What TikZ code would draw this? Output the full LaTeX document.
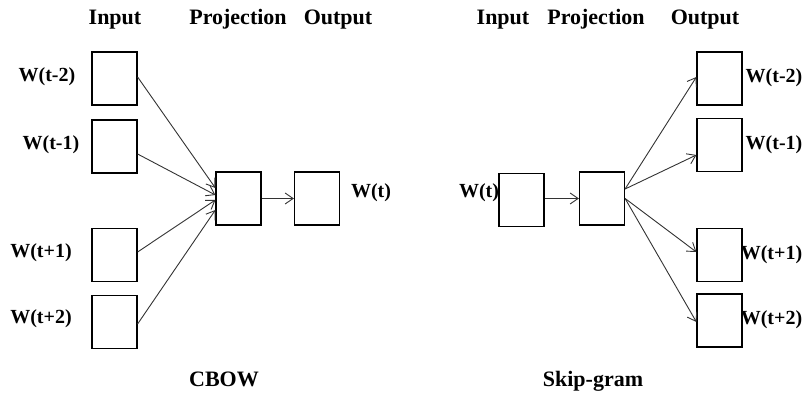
\documentclass[tikz,border=0pt]{standalone}
\usepackage{fontspec}
\setmainfont{Liberation Serif}
\usetikzlibrary{arrows.meta}
\begin{document}
\begin{tikzpicture}[x=1pt, y=1pt,
  boite/.style={draw, line width=1.2pt, minimum width=45pt, minimum height=53pt, inner sep=0pt},
  fleche/.style={-{Straight Barb[length=8pt,width=11pt]}, line width=0.9pt, draw=black!80},
  texte/.style={font=\fontsize{20}{24}\selectfont\bfseries, inner sep=0pt},
  titre/.style={font=\fontsize{22}{26}\selectfont\bfseries, inner sep=0pt, anchor=base}]
\useasboundingbox (0,0) rectangle (803,396);
% CBOW
\node[titre] (cbowin) at (115,371) {Input};
\node[titre] (cbowproj) at (238,371) {Projection};
\node[titre] (cbowout) at (338,371) {Output};
\node[boite] (in1) at (114.5,317.5) {};
\node[boite] (in2) at (114.5,249.5) {};
\node[boite] (in3) at (114.5,141) {};
\node[boite] (in4) at (114.5,74) {};
\node[boite] (proj) at (238.5,197.5) {};
\node[boite] (out) at (317,197.5) {};
\node[texte] (lin1) at (47,319) {W(t-2)};
\node[texte] (lin2) at (51,251) {W(t-1)};
\node[texte] (lin3) at (41,143) {W(t+1)};
\node[texte] (lin4) at (41,77) {W(t+2)};
\node[texte] (lout) at (371,203) {W(t)};
\draw[fleche] ([yshift=1.5pt]in1.east) -- ([yshift=10.5pt]proj.west);
\draw[fleche] ([yshift=-7.5pt]in2.east) -- ([yshift=3.5pt]proj.west);
\draw[fleche] ([yshift=3pt]in3.east) -- ([yshift=-1.5pt]proj.west);
\draw[fleche] ([yshift=-2pt]in4.east) -- ([yshift=-11.5pt]proj.west);
\draw[fleche] (proj) -- (out);
\node[titre] (cbow) at (224,9) {CBOW};
% Skip-gram
\node[titre] (skin) at (503,371) {Input};
\node[titre] (skproj) at (596,371) {Projection};
\node[titre] (skout) at (705,371) {Output};
\node[boite] (sin) at (521.5,196) {};
\node[boite] (sproj) at (602,197.5) {};
\node[boite] (so1) at (719.5,317.5) {};
\node[boite] (so2) at (719.5,251) {};
\node[boite] (so3) at (719.5,141) {};
\node[boite] (so4) at (719.5,75.5) {};
\node[texte] (lsin) at (479,203) {W(t)};
\node[texte] (lso1) at (774,318) {W(t-2)};
\node[texte] (lso2) at (774,251) {W(t-1)};
\node[texte] (lso3) at (771.5,141) {W(t+1)};
\node[texte] (lso4) at (771.5,76) {W(t+2)};
\draw[fleche] (sin.east |- sproj) -- (sproj.west);
\draw[fleche] ([yshift=9.5pt]sproj.east) -- ([yshift=1.5pt]so1.west);
\draw[fleche] ([yshift=9.5pt]sproj.east) -- ([yshift=-10pt]so2.west);
\draw[fleche] (sproj.east) -- ([yshift=3pt]so3.west);
\draw[fleche] (sproj.east) -- ([yshift=-1.5pt]so4.west);
\node[titre] (skip) at (593,9) {Skip-gram};
\end{tikzpicture}
\end{document}
